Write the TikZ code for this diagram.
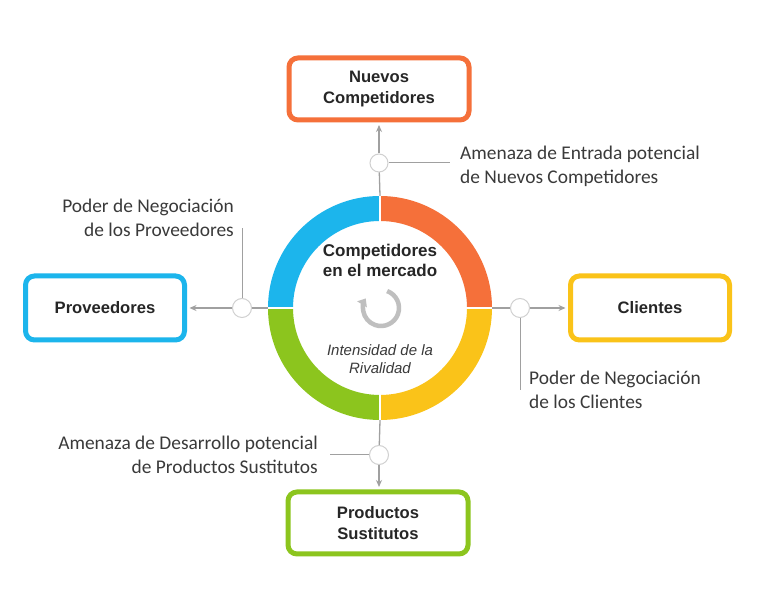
\documentclass[tikz,border=0pt]{standalone}
\usepackage{fontspec}
\setmainfont{Liberation Sans}
\newfontfamily\lblfont{Carlito}
\usetikzlibrary{arrows.meta}
\definecolor{cBlue}{HTML}{1CB5EC}
\definecolor{cOrange}{HTML}{F5703A}
\definecolor{cYellow}{HTML}{FAC319}
\definecolor{cGreen}{HTML}{8CC51E}
\definecolor{cLine}{HTML}{A0A0A0}
\definecolor{cKnot}{HTML}{D0D0D0}
\definecolor{cText}{HTML}{3A3A3A}
\begin{document}
\begin{tikzpicture}[x=1pt,y=1pt,
  box/.style={draw, line width=5pt, rounded corners=9pt, fill=white, align=center,
    font=\fontsize{16.6}{20.5}\selectfont\bfseries, text=black!85, inner sep=0pt},
  conn/.style={draw=cLine, line width=1.3pt},
  arr/.style={conn, -{Stealth[length=7pt,width=6pt]}, shorten >=2.5pt},
  knot/.style={circle, draw=cKnot, fill=white, line width=1pt, minimum size=19pt, inner sep=0pt},
  lbl/.style={font=\lblfont\fontsize{19.4}{24}\selectfont, text=cText, inner sep=0pt},
  seg/.style={line width=25pt}]
\fill[white] (0,0) rectangle (766,594);
\useasboundingbox (0,0) rectangle (766,594);

% ring
\node[circle, minimum size=224pt, inner sep=0pt] (ring) at (380,286) {};
\draw[seg, cBlue]   (ring.center) ++(90:99.5)  arc[start angle=90,  end angle=180, radius=99.5];
\draw[seg, cOrange] (ring.center) ++(0:99.5)   arc[start angle=0,   end angle=90,  radius=99.5];
\draw[seg, cYellow] (ring.center) ++(-90:99.5) arc[start angle=-90, end angle=0,   radius=99.5];
\draw[seg, cGreen]  (ring.center) ++(180:99.5) arc[start angle=180, end angle=270, radius=99.5];
\foreach \a in {0,90,180,270}
  \draw[white, line width=1.5pt] (ring.center) ++(\a:86) -- ++(\a:27);

% boxes
\node[box, draw=cOrange, minimum width=180pt, minimum height=62pt] (nuevos) at (379,505) {Nuevos\\Competidores};
\node[box, draw=cBlue, minimum width=159pt, minimum height=64pt] (prov) at (105,286) {Proveedores};
\node[box, draw=cYellow, minimum width=159pt, minimum height=64pt] (cli) at (650,286) {Clientes};
\node[box, draw=cGreen, minimum width=180pt, minimum height=62pt] (prod) at (378,71) {Productos\\Sustitutos};

% knots
\node[knot, minimum size=18pt] (k1) at (379,431) {};
\node[knot] (k2) at (242,286) {};
\node[knot] (k3) at (520,286) {};
\node[knot] (k4) at (379,139) {};

% connectors
\draw[conn] (ring.north) -- (k1);
\draw[arr] (k1) -- (nuevos.south);
\draw[conn] (ring.west) -- (k2);
\draw[arr] (k2) -- (prov.east);
\draw[conn] (ring.east) -- (k3);
\draw[arr] (k3) -- (cli.west);
\draw[conn] (ring.south) -- (k4);
\draw[arr] (k4) -- (prod.north -| k4);

% label leaders
\coordinate (e1) at (450,431);
\coordinate (e2) at (242,366);
\coordinate (e3) at (520,204);
\coordinate (e4) at (330,139);
\draw[conn, line width=1pt] (k1.east) -- (e1);
\draw[conn, line width=1pt] (k2.north) -- (e2);
\draw[conn, line width=1pt] (k3.south) -- (e3);
\draw[conn, line width=1pt] (k4.west) -- (e4);

% labels
\node[lbl, anchor=west, align=left] (t1) at (460,428) {Amenaza de Entrada potencial\\de Nuevos Competidores};
\node[lbl, anchor=east, align=right] (t2) at (234,376) {Poder de Negociación\\de los Proveedores};
\node[lbl, anchor=west, align=left] (t3) at (529,204) {Poder de Negociación\\de los Clientes};
\node[lbl, anchor=east, align=right] (t4) at (318,139) {Amenaza de Desarrollo potencial\\de Productos Sustitutos};

% centre
\node[font=\fontsize{17}{20}\selectfont\bfseries, text=black!85, align=center] (ct) at (380,334) {Competidores\\en el mercado};
\draw[line width=4.5pt, black!25, -{Triangle[length=7pt,width=11pt]}] (381,286) ++(70:18) arc[start angle=70, end angle=-212, radius=18];
\node[font=\fontsize{15}{18}\selectfont\itshape, text=cText, align=center] (it) at (380,235) {Intensidad de la\\Rivalidad};
\end{tikzpicture}
\end{document}
